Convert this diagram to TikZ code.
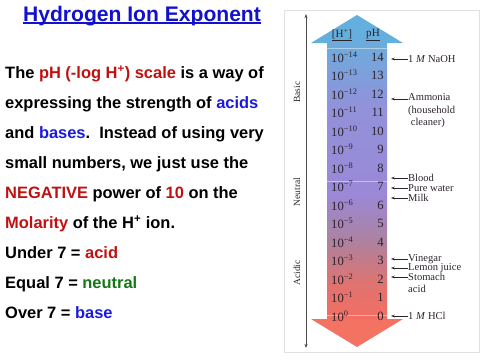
\documentclass[tikz,border=0pt]{standalone}
\usepackage{fontspec}
\setmainfont{Liberation Sans}
\newfontfamily\figfont{Liberation Serif}
\definecolor{TitleBlue}{RGB}{18,18,205}
\definecolor{KeyRed}{RGB}{192,16,16}
\definecolor{KeyBlue}{RGB}{25,25,225}
\definecolor{KeyGreen}{RGB}{20,120,20}
\definecolor{HeadBlue}{RGB}{100,175,222}
\definecolor{HeadRed}{RGB}{244,114,98}
\definecolor{ScaleA}{RGB}{108,172,220}
\definecolor{ScaleB}{RGB}{145,146,218}
\definecolor{ScaleC}{RGB}{155,136,214}
\definecolor{ScaleD}{RGB}{172,130,160}
\definecolor{ScaleE}{RGB}{225,115,110}
\definecolor{ScaleF}{RGB}{243,110,98}
\definecolor{InkGray}{RGB}{45,35,45}
\usetikzlibrary{arrows.meta}
\newcommand{\hp}{\textsuperscript{+}}

\begin{document}
\begin{tikzpicture}[x=0.033333cm,y=-0.033333cm,
  body/.style={anchor=base west,inner sep=0pt,font=\bfseries\fontsize{15.6}{18}\selectfont},
  row/.style={inner sep=0pt,font=\figfont\fontsize{12}{13}\selectfont,text=InkGray},
  tag/.style={inner sep=0pt,align=left,font=\figfont\fontsize{10}{12}\selectfont,text=InkGray},
  side/.style={rotate=90,inner sep=0pt,font=\figfont\fontsize{9}{10}\selectfont,text=InkGray},
  ptr/.style={-{Stealth[length=3.5pt,width=2.5pt]},line width=0.6pt,InkGray}]
  \useasboundingbox (0,0) rectangle (480,360);
  % title and text
  \node[anchor=base,inner sep=0pt,text=TitleBlue,font=\bfseries\fontsize{20}{24}\selectfont] (title) at (142,21) {Hydrogen Ion Exponent};
  \draw[TitleBlue,line width=1.3pt] ([yshift=-2pt]title.base west) -- ([yshift=-2pt]title.base east);
  \node[body] (l1) at (5,78) {The \textcolor{KeyRed}{pH (-log H\hp) scale} is a way of};
  \node[body] (l2) at (5,108) {expressing the strength of \textcolor{KeyBlue}{acids}};
  \node[body] (l3) at (5,138) {and \textcolor{KeyBlue}{bases}.\ \ Instead of using very};
  \node[body] (l4) at (5,168) {small numbers, we just use the};
  \node[body] (l5) at (5,198) {\textcolor{KeyRed}{NEGATIVE} power of \textcolor{KeyRed}{10} on the};
  \node[body] (l6) at (5,228) {\textcolor{KeyRed}{Molarity} of the H\hp{} ion.};
  \node[body] (l7) at (5,258) {Under 7 = \textcolor{KeyRed}{acid}};
  \node[body] (l8) at (5,288) {Equal 7 = \textcolor{KeyGreen}{neutral}};
  \node[body] (l9) at (5,318) {Over 7 = \textcolor{KeyBlue}{base}};
  % pH scale
  \draw[black!12,line width=0.8pt] (284,10.5) rectangle (479,352);
  \fill[HeadBlue] (311,43) -- (357,15) -- (403,43) -- cycle;
  \foreach \ya/\yb/\ca/\cb in {42.5/105.5/ScaleA/ScaleB,105/195.5/ScaleB/ScaleC,195/240.5/ScaleC/ScaleD,240/285.5/ScaleD/ScaleE,285/319.5/ScaleE/ScaleF}
    \shade[top color=\ca,bottom color=\cb] (327,\ya) rectangle (387,\yb);
  \fill[HeadRed] (311,319) -- (357,347) -- (403,319) -- cycle;
  \foreach \y in {48,181,315} \draw[white,opacity=0.45,line width=0.5pt] (327,\y) -- (387,\y);
  \node[row,font=\figfont\fontsize{10.5}{12}\selectfont] (hion) at (342,35) {\underline{[H\hp]}};
  \node[row,font=\figfont\fontsize{10.5}{12}\selectfont] (hph) at (373,35) {\underline{pH}};
  \foreach \p in {0,...,14} {
    \node[row,anchor=west] (e\p) at (331,{57+(14-\p)*18.5}) {10\textsuperscript{\ifnum\p=0 0\else −\p\fi}};
    \node[row,anchor=east] (n\p) at (384,{57+(14-\p)*18.5}) {\p};
  }
  % side axis
  \coordinate (axtop) at (306,14);
  \coordinate (axbot) at (306,348);
  \draw[{Stealth[length=4pt,width=3pt]}-{Stealth[length=4pt,width=3pt]},line width=0.7pt,black!70] (axtop) -- (axbot);
  \node[side] (basic) at (297,92) {Basic};
  \node[side] (neutral) at (297,192) {Neutral};
  \node[side] (acidic) at (297,273) {Acidic};
  % examples
  \node[tag,anchor=west] (naoh) at (408,59) {1 \textit{M} NaOH};
  \node[tag,anchor=north west] (amm) at (408,93.5) {Ammonia\\(household\\\ cleaner)};
  \node[tag,anchor=west] (blood) at (408,178) {Blood};
  \node[tag,anchor=west] (water) at (408,188) {Pure water};
  \node[tag,anchor=west] (milk) at (408,198) {Milk};
  \node[tag,anchor=west] (vin) at (408,259) {Vinegar};
  \node[tag,anchor=west] (lemon) at (408,268) {Lemon juice};
  \node[tag,anchor=north west] (stom) at (408,272.5) {Stomach\\acid};
  \node[tag,anchor=west] (hcl) at (408,316) {1 \textit{M} HCl};
  \foreach \n/\y in {naoh/59,amm/99,blood/178,water/188,milk/198,vin/259,lemon/268,stom/277,hcl/316} {
    \coordinate (\n-tip) at (391,\y);
    \draw[ptr] (\n-tip -| \n.west) -- (\n-tip);
  }
\end{tikzpicture}
\end{document}
